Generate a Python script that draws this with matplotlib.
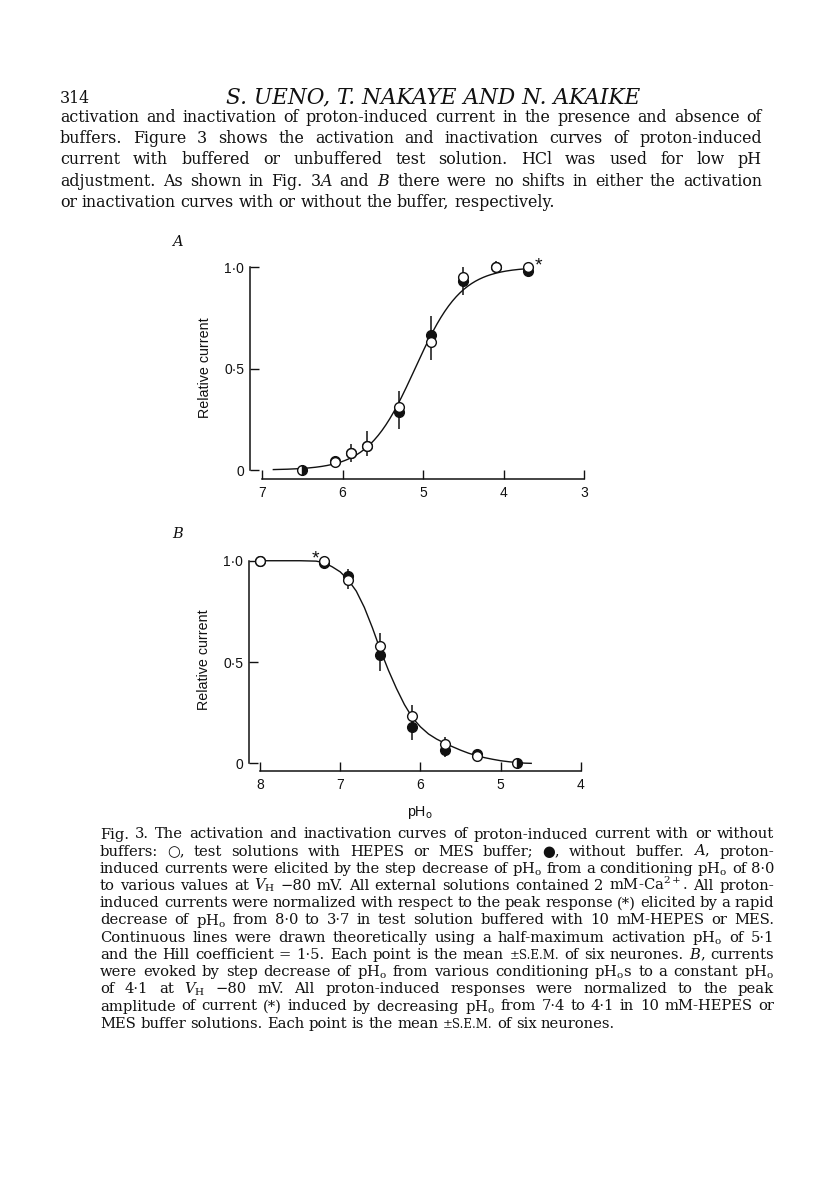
import numpy as np
import matplotlib
matplotlib.use("Agg")
from matplotlib import pyplot as plt

plt.rcParams['font.family'] = ['DejaVu Serif']
plt.rcParams['mathtext.fontset'] = 'dejavuserif'

# ---- data, panel A (activation) ----
ph_a = [6.1, 5.9, 5.7, 5.3, 4.9, 4.5, 4.1, 3.7]
open_a = [0.04, 0.085, 0.12, 0.31, 0.63, 0.95, 1.0, 1.0]
filled_a = [0.045, 0.085, 0.12, 0.285, 0.665, 0.93, 1.0, 0.98]
bar_lo_a = [0.04, 0.04, 0.07, 0.20, 0.54, 0.86, 0.97, 0.98]
bar_hi_a = [0.05, 0.13, 0.19, 0.39, 0.76, 1.0, 1.03, 0.98]
half_ph_a = [6.5]
half_a = [0.0]
ph50_a = 5.1
hill_a = 1.5
curve_a_from, curve_a_to = 6.86, 3.7

# ---- data, panel B (inactivation) ----
ph_b = [8.0, 7.2, 6.9, 6.5, 6.1, 5.7, 5.3]
open_b = [1.0, 1.0, 0.905, 0.58, 0.235, 0.095, 0.036]
filled_b = [1.0, 0.99, 0.925, 0.535, 0.18, 0.065, 0.045]
bar_lo_b = [1.0, 0.99, 0.86, 0.457, 0.115, 0.03, 0.03]
bar_hi_b = [1.0, 1.0, 0.96, 0.645, 0.288, 0.128, 0.05]
half_ph_b = [4.8]
half_b = [0.0]
curve_b_ph = [8.0, 7.5, 7.3, 7.2, 7.1, 7.0, 6.9, 6.8, 6.7, 6.6, 6.5, 6.4, 6.3, 6.2,
              6.1, 6.0, 5.9, 5.8, 5.7, 5.6, 5.5, 5.4, 5.3, 5.2, 5.1, 5.0, 4.9, 4.8,
              4.7, 4.62]
curve_b = [1.0, 1.0, 0.998, 0.99, 0.97, 0.945, 0.905, 0.85, 0.77, 0.67, 0.56, 0.46,
           0.37, 0.29, 0.225, 0.18, 0.145, 0.12, 0.10, 0.082, 0.065, 0.05, 0.038,
           0.028, 0.02, 0.013, 0.008, 0.004, 0.001, 0.0]

xticks_a = [7, 6, 5, 4, 3]
xticks_b = [8, 7, 6, 5, 4]
yticks = [0, 0.5, 1.0]
ytick_labels = ['0', '0·5', '1·0']

header_page = "314"
header_title = "S. UENO, T. NAKAYE AND N. AKAIKE"
body = [
    "activation and inactivation of proton-induced current in the presence and absence of",
    "buffers. Figure 3 shows the activation and inactivation curves of proton-induced",
    "current with buffered or unbuffered test solution. HCl was used for low pH",
    "adjustment. As shown in Fig. 3$A$ and $B$ there were no shifts in either the activation",
    "or inactivation curves with or without the buffer, respectively.",
]
caption = [
    "Fig. 3. The activation and inactivation curves of proton-induced current with or without",
    "buffers: ○, test solutions with HEPES or MES buffer; ●, without buffer. $A$, proton-",
    "induced currents were elicited by the step decrease of pH$_\\mathrm{o}$ from a conditioning pH$_\\mathrm{o}$ of 8·0",
    "to various values at $V_\\mathrm{H}$ −80 mV. All external solutions contained 2 mM-Ca$^{2+}$. All proton-",
    "induced currents were normalized with respect to the peak response (*) elicited by a rapid",
    "decrease of pH$_\\mathrm{o}$ from 8·0 to 3·7 in test solution buffered with 10 mM-HEPES or MES.",
    "Continuous lines were drawn theoretically using a half-maximum activation pH$_\\mathrm{o}$ of 5·1",
    "and the Hill coefficient = 1·5. Each point is the mean ~±S.E.M. of six neurones. $B$, currents",
    "were evoked by step decrease of pH$_\\mathrm{o}$ from various conditioning pH$_\\mathrm{o}$s to a constant pH$_\\mathrm{o}$",
    "of 4·1 at $V_\\mathrm{H}$ −80 mV. All proton-induced responses were normalized to the peak",
    "amplitude of current (*) induced by decreasing pH$_\\mathrm{o}$ from 7·4 to 4·1 in 10 mM-HEPES or",
    "MES buffer solutions. Each point is the mean ~±S.E.M. of six neurones.",
]

W, H = 816, 1183
ink = '#111111'
sans = ['Liberation Sans', 'DejaVu Sans']

fig = plt.figure(figsize=(W / 100, H / 100), dpi=100)
fig.patch.set_facecolor('white')
rend = fig.canvas.get_renderer()


def px_text(x, y, s, **kw):
    return fig.text(x / W, 1 - y / H, s, va='baseline', color=ink, **kw)


def width_of(t):
    return t.get_window_extent(rend).width


def set_line(line, x0, x1, y, size, justify=True):
    objs = []
    for w in line.split(' '):
        if w.startswith('~'):
            objs.append(px_text(0, y, w[1:], fontsize=size * 0.8))
        else:
            objs.append(px_text(0, y, w, fontsize=size))
    widths = [width_of(t) for t in objs]
    if justify:
        gap = (x1 - x0 - sum(widths)) / (len(objs) - 1)
    else:
        gap = 0.3 * size * 100 / 72
    x = x0
    for t, w in zip(objs, widths):
        t.set_x(x / W)
        x += w + gap


def fit_size(s, target, **kw):
    probe = px_text(0, 0, s, fontsize=10, **kw)
    w = width_of(probe)
    probe.remove()
    return 10 * target / w


body_size = fit_size(body[0], 685)
cap_size = fit_size(caption[0], 660)

px_text(60, 103, header_page, fontsize=body_size)
px_text(226, 103, header_title, fontsize=fit_size(header_title, 414, style='italic'),
        style='italic')

for i, line in enumerate(body):
    set_line(line, 60, 762, 121.5 + 21.4 * i, body_size, justify=i < len(body) - 1)

for i, line in enumerate(caption):
    set_line(line, 100, 774, 838.5 + 17.2 * i, cap_size, justify=i < len(caption) - 1)

px_text(172, 246, 'A', fontsize=10.5, style='italic')
px_text(172, 538, 'B', fontsize=10.5, style='italic')


def make_axes(left, right, top, bottom):
    return fig.add_axes([left / W, 1 - bottom / H, (right - left) / W, (bottom - top) / H])


def draw_panel(ax, ph, op, fi, lo, hi, hph, hy):
    fi = np.array(fi)
    yerr = [fi - np.array(lo), np.array(hi) - fi]
    ax.errorbar(ph, fi, yerr=yerr, fmt='o', ms=7, mfc=ink, mec=ink, ecolor=ink,
                elinewidth=1.1, capsize=0, zorder=3, clip_on=False)
    ax.plot(ph, op, 'o', ms=7, mfc='white', mec=ink, mew=1.0, zorder=4, clip_on=False)
    ax.plot(hph, hy, 'o', ms=7, fillstyle='right', mfc=ink, mfcalt='white', mec=ink,
            mew=1.0, zorder=4, clip_on=False)


def style_axes(ax, xlim, xticks, outward):
    ax.set_xlim(*xlim)
    ax.set_ylim(-0.02, 1.05)
    ax.patch.set_alpha(0)
    ax.spines['top'].set_visible(False)
    ax.spines['right'].set_visible(False)
    ax.spines['left'].set_bounds(0, 1)
    ax.spines['bottom'].set_bounds(xticks[-1], xticks[0])
    ax.spines['bottom'].set_position(('outward', outward))
    for s in ('left', 'bottom'):
        ax.spines[s].set_linewidth(1.1)
        ax.spines[s].set_color(ink)
    ax.set_xticks(xticks)
    ax.set_xticklabels([str(t) for t in xticks])
    ax.set_yticks(yticks)
    ax.set_yticklabels(ytick_labels)
    ax.tick_params(direction='in', length=6.3, width=1.0, color=ink, labelsize=10,
                   labelcolor=ink)
    ax.tick_params(axis='y', pad=4.3)
    ax.tick_params(axis='x', pad=5)
    for lab in ax.get_xticklabels() + ax.get_yticklabels():
        lab.set_family(sans)
    ax.set_ylabel('Relative current', fontsize=10.3, family=sans, color=ink)


# panel A
ax_a = make_axes(250, 596.2, 256.9, 474.1)
style_axes(ax_a, (7.15, 2.85), xticks_a, 3.6)
ax_a.yaxis.set_label_coords(-0.11, 0.49)
ph_line = np.linspace(curve_a_from, curve_a_to, 200)
ax_a.plot(ph_line, 1 / (1 + 10 ** (hill_a * (ph_line - ph50_a))), color=ink, lw=1.0, zorder=2)
draw_panel(ax_a, ph_a, open_a, filled_a, bar_lo_a, bar_hi_a, half_ph_a, half_a)
ax_a.annotate('*', (ph_a[-1], open_a[-1]), xytext=(5, 1), textcoords='offset points',
              fontsize=14, family=sans, color=ink, ha='left', va='center')

# panel B
ax_b = make_axes(249, 593, 550.6, 767.4)
style_axes(ax_b, (8.137, 3.85), xticks_b, 2.4)
ax_b.yaxis.set_label_coords(-0.11, 0.495)
ax_b.plot(curve_b_ph, curve_b, color=ink, lw=1.0, zorder=2)
draw_panel(ax_b, ph_b, open_b, filled_b, bar_lo_b, bar_hi_b, half_ph_b, half_b)
ax_b.annotate('*', (ph_b[1], open_b[1]), xytext=(-6, 1), textcoords='offset points',
              fontsize=14, family=sans, color=ink, ha='center', va='center')
ax_b.set_xlabel(r'pH$_\mathsf{o}$', fontsize=10.3, family=sans, color=ink)
ax_b.xaxis.set_label_coords(0.497, -0.17)

fig.savefig('out.png', dpi=100, facecolor='white')
